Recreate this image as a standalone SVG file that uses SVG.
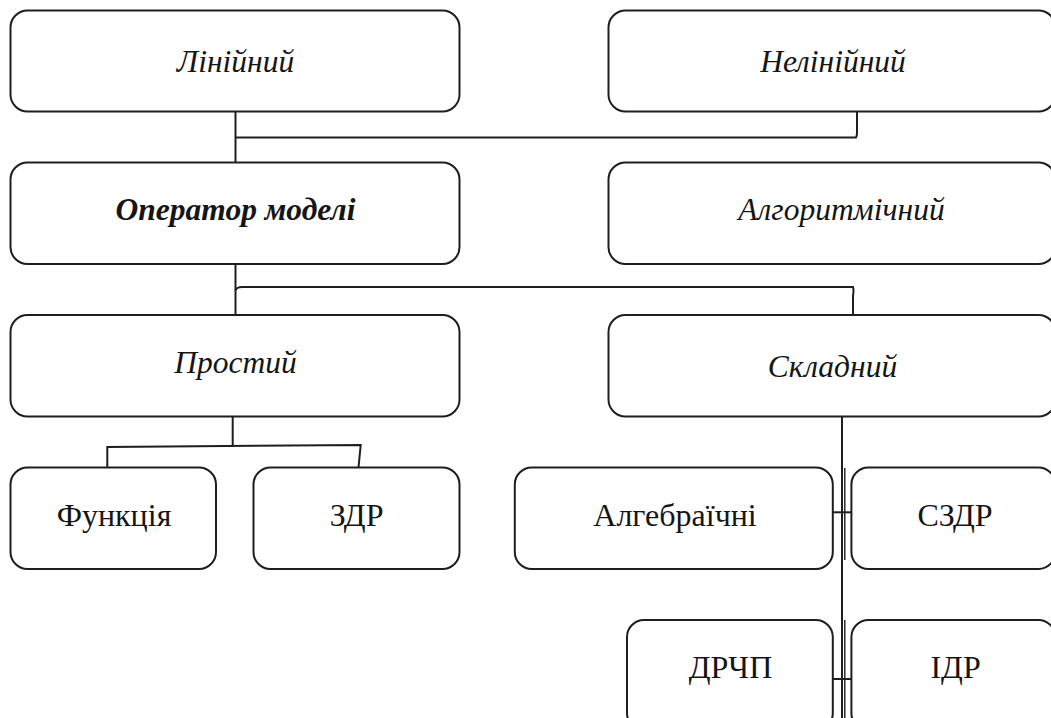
<svg xmlns="http://www.w3.org/2000/svg" width="1051" height="718" viewBox="0 0 1051 718">
  <style>
    .box { fill: #ffffff; stroke: #1e1e1e; stroke-width: 2; }
    .lbl { font-family: "Liberation Serif", "Times New Roman", serif; font-size: 32px; fill: #151515; text-anchor: middle; }
    .it { font-style: italic; font-size: 31.5px; }
    .bi { font-style: italic; font-weight: bold; font-size: 31.5px; }
    .wire { fill: none; stroke: #1e1e1e; stroke-width: 2; }
    .thin { fill: none; stroke: #2a2a2a; stroke-width: 1.5; }
  </style>
  <rect width="1051" height="718" fill="#ffffff"/>

  <!-- connectors -->
  <g id="connectors">
    <!-- Лінійний / Нелінійний to Оператор моделі -->
    <path class="wire" d="M235.5 112 V162.5"/>
    <path class="wire" d="M235.5 137.5 H856 Q857 136 857 133 V112"/>
    <!-- Оператор моделі to Простий / Складний -->
    <path class="wire" d="M235.5 264.5 V315"/>
    <path class="wire" d="M235.5 290 Q237 287 242 287 H853 Q854 290 853 296 V315"/>
    <!-- Простий to Функція / ЗДР -->
    <path class="wire" d="M232.7 417 V445.5"/>
    <path class="wire" d="M107.3 467.5 V447 L360.7 445 L358.5 467.5"/>
    <!-- Складний trunk -->
    <path class="wire" d="M842 416.5 V718"/>
    <path class="thin" d="M844.8 468 V560"/>
    <path class="thin" d="M844.8 620 V718"/>
    <path class="wire" d="M832.5 512.3 H851.4"/>
    <path class="wire" d="M829.5 679 H851.4"/>
  </g>

  <g id="n-liniinyi">
    <rect class="box" x="10.5" y="10.5" width="449" height="101" rx="17"/>
    <text class="lbl it" x="235.5" y="72">Лінійний</text>
  </g>
  <g id="n-neliniinyi">
    <rect class="box" x="608.5" y="10.5" width="447" height="101" rx="17"/>
    <text class="lbl it" x="833" y="72">Нелінійний</text>
  </g>
  <g id="n-operator">
    <rect class="box" x="10.5" y="162.5" width="449" height="101.5" rx="17"/>
    <text class="lbl bi" x="235.5" y="220">Оператор моделі</text>
  </g>
  <g id="n-algorytmichnyi">
    <rect class="box" x="608.5" y="162.5" width="447" height="101.5" rx="17"/>
    <text class="lbl it" x="841.5" y="220">Алгоритмічний</text>
  </g>
  <g id="n-prostyi">
    <rect class="box" x="10.5" y="315" width="449" height="101.5" rx="17"/>
    <text class="lbl it" x="235.5" y="373">Простий</text>
  </g>
  <g id="n-skladnyi">
    <rect class="box" x="608.5" y="315" width="447" height="101.5" rx="17"/>
    <text class="lbl it" x="832.5" y="376.5">Складний</text>
  </g>
  <g id="n-funktsiia">
    <rect class="box" x="10.5" y="467.5" width="205.5" height="101.5" rx="17"/>
    <text class="lbl" x="114" y="526">Функція</text>
  </g>
  <g id="n-zdr">
    <rect class="box" x="253.5" y="467.5" width="206" height="101.5" rx="17"/>
    <text class="lbl" x="356.6" y="526">ЗДР</text>
  </g>
  <g id="n-alhebraichni">
    <rect class="box" x="514.8" y="467.5" width="318" height="101.5" rx="17"/>
    <text class="lbl" x="675" y="525.7">Алгебраїчні</text>
  </g>
  <g id="n-szdr">
    <rect class="box" x="851.4" y="467.5" width="204" height="101.5" rx="17"/>
    <text class="lbl" x="955" y="525.7">СЗДР</text>
  </g>
  <g id="n-drchp">
    <rect class="box" x="627" y="620" width="205.8" height="110" rx="17"/>
    <text class="lbl" x="730.5" y="678">ДРЧП</text>
  </g>
  <g id="n-idr">
    <rect class="box" x="851.4" y="620" width="204" height="110" rx="17"/>
    <text class="lbl" x="955.6" y="678">ІДР</text>
  </g>
</svg>
